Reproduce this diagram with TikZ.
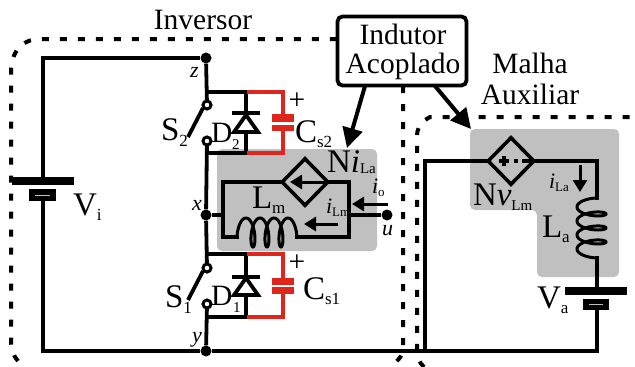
\documentclass[tikz,border=0pt]{standalone}
\usepackage{fontspec}
\setmainfont{Liberation Serif}
\usetikzlibrary{arrows.meta,shapes.geometric}
\definecolor{capred}{RGB}{222,38,28}
\definecolor{greybg}{RGB}{192,192,192}
\newcommand{\tbig}[1]{{\fontsize{29.5}{29.5}\selectfont #1}}
\newcommand{\tlet}[1]{{\fontsize{33}{33}\selectfont #1}}
\newcommand{\tmid}[1]{{\fontsize{22}{22}\selectfont\itshape #1}}
\newcommand{\tsub}[2][5pt]{\raisebox{-#1}{\fontsize{17}{17}\selectfont #2}}
\newcommand{\tsmall}[3][5pt]{\raisebox{-#1}{\fontsize{#2}{#2}\selectfont #3}}
\tikzset{
  x=1pt,y=-1pt,
  wire/.style={line width=3.8pt,line join=miter},
  redwire/.style={line width=3.4pt,capred},
  bound/.style={line width=4pt,dash pattern=on 7pt off 11pt},
  callout/.style={line width=4pt,-{Triangle[length=20pt,width=20pt]}},
  curarrow/.style={line width=3pt,-{Triangle[length=12pt,width=14pt]}},
  lbl/.style={anchor=base west,inner sep=0pt,outer sep=0pt},
  dot/.style={circle,fill=black,inner sep=0pt,minimum size=11pt},
  contact/.style={circle,draw=black,fill=white,line width=3pt,inner sep=0pt,minimum size=8pt},
  ctrl/.style={diamond,draw=black,fill=greybg,line width=3.6pt,inner sep=0pt,minimum width=47pt,minimum height=48pt,aspect=1},
}
\begin{document}
\begin{tikzpicture}
\useasboundingbox (0,0) rectangle (635,367);
% shaded regions
\fill[greybg,rounded corners=5pt] (217,149) rectangle (377,251);
\fill[greybg,rounded corners=5pt] (470,129) -- (619,129) -- (619,277) -- (537,277) -- (537,210) -- (470,210) -- cycle;
% boundaries
\draw[bound] (18,361) .. controls (12,354) and (11,348) .. (11,338) -- (11,72) .. controls (11,52) and (22,39) .. (40,39) -- (340,39);
\draw[bound] (403,86) -- (403,350) .. controls (403,354) and (400,358) .. (396,362);
\draw[bound] (424,367) .. controls (419,362) and (417,358) .. (417,350) -- (417,137) .. controls (417,128) and (420,124) .. (425,120) -- (430,117) -- (634,117);
% junctions
\node[dot] (z) at (206,58) {};
\node[dot] (xn) at (206,215) {};
\node[dot] (yn) at (206,351) {};
\node[dot] (un) at (387,215) {};
% contacts
\coordinate (s2a) at (207,105);
\coordinate (s2b) at (207,141);
\coordinate (s1a) at (207,268);
\coordinate (s1b) at (207,304);
% main circuit
\coordinate (vitop) at (43,181);
\coordinate (vibot) at (43,195);
\draw[wire] (vitop) -- (43,58) -- (z);
\draw[wire] (vibot) -- (43,351) -- (yn);
\draw[wire] (yn) -- (597,351) -- (597,305);
\draw[wire] (425,351) -- (425,161) -- (488,161);
\draw[wire] (z) -- (s2a);
\draw[wire] (s2b) -- (xn);
\draw[wire] (xn) -- (s1a);
\draw[wire] (s1b) -- (yn);
% rails
\draw[wire] (206,92) -- (247,92) (206,153) -- (247,153);
\draw[wire] (206,254) -- (247,254) (206,317) -- (247,317);
\draw[wire] (246,92) -- (246,153);
\draw[wire] (246,254) -- (246,317);
% red capacitor branches
\draw[redwire,line join=miter] (247,92) -- (283,92) -- (283,153) -- (247,153);
\draw[redwire,line join=miter] (247,254) -- (283,254) -- (283,317) -- (247,317);
\fill[white] (270,122) rectangle (296,125);
\fill[capred] (272,114) rectangle (294,122);
\fill[capred] (272,125) rectangle (294,131);
\fill[white] (270,285) rectangle (296,287);
\fill[capred] (272,278) rectangle (294,285);
\fill[capred] (272,287) rectangle (294,294);
% diodes
\draw[wire,fill=white,line join=miter] (246,115) -- (234,132) -- (258,132) -- cycle;
\draw[line width=3.8pt] (232,113) -- (260,113);
\draw[wire,fill=white,line join=miter] (246,278) -- (234,295) -- (258,295) -- cycle;
\draw[line width=3.8pt] (232,277) -- (260,277);
% switches
\draw[line width=3.8pt] (203,108) -- (188,137);
\draw[line width=3.8pt] (203,271) -- (188,300);
\node[contact] (ca) at (s2a) {};
\node[contact] (cb) at (s2b) {};
\node[contact] (cc) at (s1a) {};
\node[contact] (cd) at (s1b) {};
% coupled inductor primary
\draw[wire] (xn) -- (223,215);
\draw[wire] (239,237) -- (223,237) -- (223,182) -- (349,182) -- (349,237) -- (295,237);
\draw[wire] (un) -- (349,215);
\draw[line width=3pt,domain=-0.3:3.3,samples=150,smooth,variable=\u] plot ({237+14*(\u+0.3)+5*(sin(360*\u)+0.95)},{232.5-14.5*cos(360*\u)});
\node[ctrl] (d1) at (305,182) {};
\draw[curarrow] (327,182) -- (290,182);
\draw[curarrow] (388,204) -- (352,204);
\draw[curarrow] (338,224) -- (304,224);
% auxiliary
\draw[wire] (534,161) -- (597,161) -- (597,200);
\draw[wire] (597,256) -- (597,291);
\draw[line width=3pt,domain=-0.3:3.3,samples=150,smooth,variable=\u] plot ({591.5-14.5*cos(360*\u)},{198+14*(\u+0.3)+5*(sin(360*\u)+0.95)});
\node[ctrl] (d2) at (511,161) {};
\draw[line width=3.4pt] (499,161) -- (509,161) (504,156) -- (504,166);
\draw[line width=3.4pt] (514,161) -- (518,161) (522,161) -- (531,161);
\draw[curarrow] (580,165) -- (580,192);
% batteries
\fill (12,177) rectangle (74,185);
\fill (29,189) rectangle (56,201);
\fill[white!75!black] (35,195) rectangle (50,196);
\fill (565,287) rectangle (627,295);
\fill (583,299) rectangle (609,310);
\fill[white!75!black] (589,304) rectangle (603,305);
% callout
\node[draw=black,fill=white,line width=3.8pt,rounded corners=5pt,minimum width=129pt,minimum height=69pt,inner sep=0pt] (box) at (402,51) {};
\node[inner sep=0pt] (t1) at (403,34) {\tbig{Indutor}};
\node[inner sep=0pt] (t2) at (403,66) {\tbig{Acoplado}};
\draw[callout] (365,86) -- (347,148);
\draw[callout] (435,86) -- (471,129);
% titles
\node[inner sep=0pt] (inv) at (203,20) {\tbig{Inversor}};
\node[inner sep=0pt] (mal) at (530,63) {\tbig{Malha}};
\node[inner sep=0pt] (aux) at (530,94) {\tbig{Auxiliar}};
% component labels
\node[lbl] (lvi) at (73,215) {\tlet{V}\tsub{i}};
\node[lbl] (lva) at (537,308) {\tlet{V}\tsub{a}};
\node[lbl] (lla) at (542,237) {\tlet{L}\tsub{a}};
\node[lbl] (llm) at (252,208) {\tlet{L}\tsub{m}};
\node[lbl] (ls2) at (161,140) {\tlet{S}\tsub[6pt]{2}};
\node[lbl] (ls1) at (165,307) {\tlet{S}\tsub[6pt]{1}};
\node[lbl] (ld2) at (211,142) {\tbig{D}};
\node[lbl] (ld2s) at (232,149) {\fontsize{15}{15}\selectfont 2};
\node[lbl] (ld1) at (211,305) {\tbig{D}};
\node[lbl] (ld1s) at (233,312) {\fontsize{15}{15}\selectfont 1};
\node[lbl] (lc2) at (295,142) {\tlet{C}\tsub{s2}};
\node[lbl] (lc1) at (303,299) {\tlet{C}\tsub{s1}};
\node[inner sep=0pt] (p2) at (297,101) {\tbig{+}};
\node[inner sep=0pt] (p1) at (297,263) {\tbig{+}};
\node[lbl] (lnil) at (327,172) {\tlet{N}\tlet{\itshape i}\tsmall[1pt]{15}{La}};
\node[lbl] (lnv) at (473,205) {\tlet{N}\tlet{\itshape v}\tsmall{15}{Lm}};
\node[lbl] (lio) at (372,193) {\tmid{i}\tsmall[3pt]{13}{o}};
\node[lbl] (lilm) at (326,213) {\tmid{i}\tsmall[3pt]{13}{Lm}};
\node[lbl] (lila) at (549,188) {\tmid{i}\tsmall[3pt]{13}{La}};
\node[lbl] (lz) at (190,77) {\tmid{z}};
\node[lbl] (lx) at (192,210) {\tmid{x}};
\node[lbl] (lu) at (382,235) {\tmid{u}};
\node[lbl] (ly) at (192,342) {\tmid{y}};
\end{tikzpicture}
\end{document}
